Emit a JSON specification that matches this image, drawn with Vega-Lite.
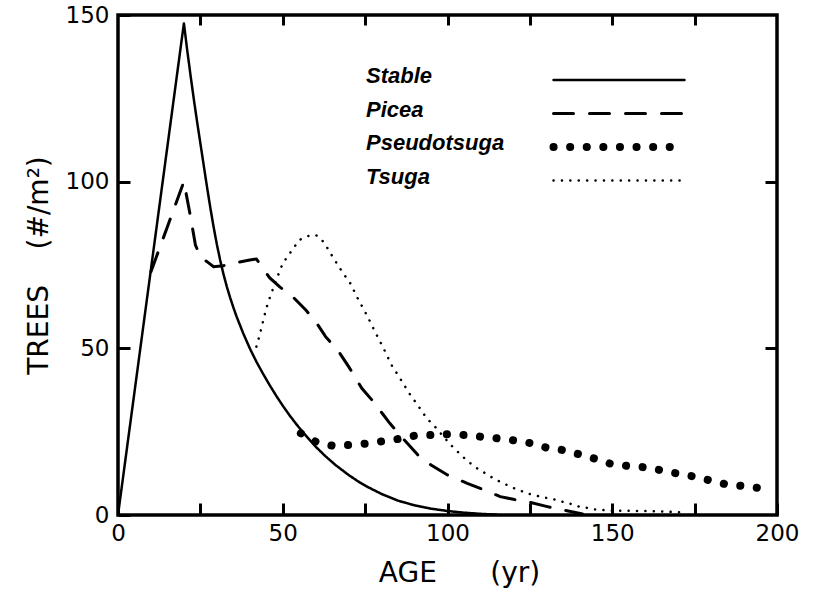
{
  "$schema": "https://vega.github.io/schema/vega-lite/v6.json",
  "width": 659,
  "height": 500,
  "autosize": "none",
  "padding": {"left": 118, "top": 15, "right": 43, "bottom": 82},
  "background": "white",
  "config": {
    "font": "DejaVu Sans",
    "view": {"stroke": "black", "strokeWidth": 3.5},
    "axis": {"domain": false, "grid": false, "tickColor": "black", "tickWidth": 3, "labelColor": "black", "titleColor": "black", "labelFont": "DejaVu Sans", "titleFont": "DejaVu Sans", "labelFontSize": 23, "titleFontSize": 28, "titleFontWeight": "normal"},
    "legend": {"orient": "none", "legendX": 424.5, "legendY": 50, "direction": "vertical", "title": null, "padding": 0, "symbolType": "M0,0H26.2", "symbolSize": 100, "symbolOffset": 0, "symbolStrokeColor": "black", "rowPadding": 11.5, "labelOffset": -198.5, "labelAlign": "left", "labelFont": "Liberation Sans", "labelFontStyle": "italic", "labelFontWeight": "bold", "labelFontSize": 22, "labelColor": "black", "labelLimit": 300}
  },
  "data": {"values": [
    {"series":"Stable","age":0,"value":0},{"series":"Stable","age":20,"value":147.5},{"series":"Stable","age":21,"value":139.5},{"series":"Stable","age":22,"value":132},{"series":"Stable","age":23,"value":124.8},{"series":"Stable","age":24,"value":118},{"series":"Stable","age":25,"value":111.5},{"series":"Stable","age":26,"value":105},{"series":"Stable","age":27,"value":98.5},{"series":"Stable","age":28,"value":92.3},{"series":"Stable","age":29,"value":86.5},{"series":"Stable","age":30,"value":81.2},{"series":"Stable","age":31,"value":76.5},{"series":"Stable","age":32,"value":72.3},{"series":"Stable","age":33,"value":68.6},{"series":"Stable","age":34,"value":65.3},{"series":"Stable","age":35,"value":62.3},{"series":"Stable","age":36,"value":59.5},{"series":"Stable","age":38,"value":54.5},{"series":"Stable","age":40,"value":50},{"series":"Stable","age":42,"value":46},{"series":"Stable","age":44,"value":42.4},{"series":"Stable","age":46,"value":39},{"series":"Stable","age":48,"value":35.8},{"series":"Stable","age":50,"value":32.8},{"series":"Stable","age":52,"value":30},{"series":"Stable","age":54,"value":27.4},{"series":"Stable","age":56,"value":25},{"series":"Stable","age":58,"value":22.7},{"series":"Stable","age":60,"value":20.5},{"series":"Stable","age":63,"value":17.6},{"series":"Stable","age":66,"value":15},{"series":"Stable","age":70,"value":12},{"series":"Stable","age":73,"value":10},{"series":"Stable","age":76,"value":8.3},{"series":"Stable","age":80,"value":6.3},{"series":"Stable","age":85,"value":4.3},{"series":"Stable","age":90,"value":2.9},{"series":"Stable","age":95,"value":1.9},{"series":"Stable","age":100,"value":1.2},{"series":"Stable","age":105,"value":0.7},{"series":"Stable","age":110,"value":0.35},{"series":"Stable","age":115,"value":0.1},
    {"series":"Picea","age":10,"value":73},{"series":"Picea","age":15,"value":86.5},{"series":"Picea","age":20,"value":100},{"series":"Picea","age":22,"value":89.5},{"series":"Picea","age":23.5,"value":81},{"series":"Picea","age":25,"value":77.5},{"series":"Picea","age":27,"value":76},{"series":"Picea","age":29,"value":74.5},{"series":"Picea","age":32,"value":74.8},{"series":"Picea","age":36,"value":75.7},{"series":"Picea","age":40,"value":76.5},{"series":"Picea","age":42,"value":76.8},{"series":"Picea","age":44,"value":74},{"series":"Picea","age":46,"value":71.2},{"series":"Picea","age":49,"value":68.5},{"series":"Picea","age":53,"value":65.5},{"series":"Picea","age":57,"value":61.5},{"series":"Picea","age":60,"value":58},{"series":"Picea","age":63,"value":53.5},{"series":"Picea","age":67,"value":49},{"series":"Picea","age":70,"value":44.5},{"series":"Picea","age":74,"value":38},{"series":"Picea","age":77.5,"value":34},{"series":"Picea","age":82.5,"value":27.5},{"series":"Picea","age":86,"value":23.5},{"series":"Picea","age":91,"value":18},{"series":"Picea","age":95,"value":15},{"series":"Picea","age":100,"value":12},{"series":"Picea","age":106,"value":9.5},{"series":"Picea","age":112,"value":7.2},{"series":"Picea","age":116,"value":5.5},{"series":"Picea","age":120,"value":4.7},{"series":"Picea","age":125,"value":3.8},{"series":"Picea","age":130,"value":2.6},{"series":"Picea","age":135,"value":1.5},{"series":"Picea","age":141,"value":0.3},
    {"series":"Pseudotsuga","age":55.5,"value":24.5},{"series":"Pseudotsuga","age":60,"value":22},{"series":"Pseudotsuga","age":65,"value":20.8},{"series":"Pseudotsuga","age":70,"value":21},{"series":"Pseudotsuga","age":75,"value":21.4},{"series":"Pseudotsuga","age":80,"value":22.1},{"series":"Pseudotsuga","age":85,"value":22.8},{"series":"Pseudotsuga","age":90,"value":23.8},{"series":"Pseudotsuga","age":95,"value":24},{"series":"Pseudotsuga","age":100,"value":24.2},{"series":"Pseudotsuga","age":105,"value":24},{"series":"Pseudotsuga","age":110,"value":23.5},{"series":"Pseudotsuga","age":115,"value":23},{"series":"Pseudotsuga","age":120,"value":22.4},{"series":"Pseudotsuga","age":125,"value":21.6},{"series":"Pseudotsuga","age":130,"value":20.2},{"series":"Pseudotsuga","age":135,"value":19.5},{"series":"Pseudotsuga","age":140,"value":18.2},{"series":"Pseudotsuga","age":145,"value":16.8},{"series":"Pseudotsuga","age":150,"value":15.2},{"series":"Pseudotsuga","age":155,"value":14.7},{"series":"Pseudotsuga","age":160,"value":14.3},{"series":"Pseudotsuga","age":165,"value":13.4},{"series":"Pseudotsuga","age":170,"value":12.4},{"series":"Pseudotsuga","age":175,"value":11.5},{"series":"Pseudotsuga","age":180,"value":10.3},{"series":"Pseudotsuga","age":185,"value":9.1},{"series":"Pseudotsuga","age":190,"value":8.7},{"series":"Pseudotsuga","age":197.5,"value":7.7},
    {"series":"Tsuga","age":42,"value":50.5},{"series":"Tsuga","age":43,"value":54},{"series":"Tsuga","age":44,"value":58},{"series":"Tsuga","age":45,"value":62},{"series":"Tsuga","age":46,"value":65},{"series":"Tsuga","age":48,"value":70.5},{"series":"Tsuga","age":50,"value":75.5},{"series":"Tsuga","age":52.5,"value":79},{"series":"Tsuga","age":55,"value":82.5},{"series":"Tsuga","age":58,"value":83.8},{"series":"Tsuga","age":60,"value":84},{"series":"Tsuga","age":61.5,"value":83},{"series":"Tsuga","age":63,"value":81},{"series":"Tsuga","age":65,"value":77.7},{"series":"Tsuga","age":68,"value":73},{"series":"Tsuga","age":70.5,"value":69.5},{"series":"Tsuga","age":73,"value":64.5},{"series":"Tsuga","age":75.5,"value":60},{"series":"Tsuga","age":78,"value":55},{"series":"Tsuga","age":80.5,"value":50.2},{"series":"Tsuga","age":83,"value":45},{"series":"Tsuga","age":85.6,"value":41},{"series":"Tsuga","age":88.4,"value":36.5},{"series":"Tsuga","age":90.8,"value":33.2},{"series":"Tsuga","age":93.7,"value":29},{"series":"Tsuga","age":96.2,"value":26.5},{"series":"Tsuga","age":101,"value":21},{"series":"Tsuga","age":103.6,"value":18.5},{"series":"Tsuga","age":106,"value":16.2},{"series":"Tsuga","age":109,"value":14},{"series":"Tsuga","age":111.5,"value":12.5},{"series":"Tsuga","age":114.4,"value":10.7},{"series":"Tsuga","age":117,"value":9.5},{"series":"Tsuga","age":119.5,"value":8.3},{"series":"Tsuga","age":124.5,"value":6.4},{"series":"Tsuga","age":129,"value":5.3},{"series":"Tsuga","age":132,"value":4.8},{"series":"Tsuga","age":134,"value":4.2},{"series":"Tsuga","age":137,"value":3.5},{"series":"Tsuga","age":139,"value":2.7},{"series":"Tsuga","age":142,"value":2.2},{"series":"Tsuga","age":144.5,"value":1.7},{"series":"Tsuga","age":147,"value":1.5},{"series":"Tsuga","age":150,"value":1.3},{"series":"Tsuga","age":160,"value":1.2},{"series":"Tsuga","age":172,"value":0.8}
  ]},
  "resolve": {"axis": {"x": "independent", "y": "independent"}},
  "layer": [
    {
      "mark": {"type": "line", "color": "black", "strokeCap": "round", "clip": true},
      "encoding": {
        "x": {"field": "age", "type": "quantitative", "scale": {"domain": [0, 200], "nice": false},
              "axis": {"orient": "bottom", "values": [0,25,50,75,100,125,150,175,200], "labelExpr": "datum.value % 50 === 0 ? datum.label : ''", "tickSize": -12, "labelPadding": 19, "labelFlush": false, "title": "AGE\u00a0\u00a0\u00a0\u00a0\u00a0\u00a0(yr)", "titlePadding": 14, "titleX": 341}},
        "y": {"field": "value", "type": "quantitative", "scale": {"domain": [0, 150], "nice": false},
              "axis": {"orient": "left", "values": [0,50,100,150], "tickSize": -12, "labelPadding": 21, "labelFlush": false, "title": "TREES\u00a0\u00a0\u00a0\u00a0(#/m²)", "titlePadding": 12}},
        "strokeDash": {"field": "series", "type": "nominal",
          "scale": {"domain": ["Stable","Picea","Pseudotsuga","Tsuga"], "range": [[1,0],[20,16],[0.1,16.5],[0.1,8.3]]},
          "legend": {"encoding": {"symbols": {"strokeCap": {"value": "round"}, "strokeJoin": {"value": "round"}, "stroke": {"value": "black"}, "y": {"value": 15}}}}},
        "strokeWidth": {"field": "series", "type": "ordinal", "sort": ["Stable","Picea","Pseudotsuga","Tsuga"],
          "scale": {"type": "ordinal", "domain": ["Stable","Picea","Pseudotsuga","Tsuga"], "range": [2.5, 3, 8, 2.5]},
          "legend": {"encoding": {"symbols": {"strokeCap": {"value": "round"}, "strokeJoin": {"value": "round"}, "stroke": {"value": "black"}, "y": {"value": 15}}}}}
      }
    },
    {
      "mark": {"type": "point", "opacity": 0},
      "encoding": {
        "x": {"field": "age", "type": "quantitative", "axis": {"orient": "top", "values": [25,50,75,100,125,150,175], "labels": false, "title": null, "tickSize": -10}},
        "y": {"field": "value", "type": "quantitative", "axis": {"orient": "right", "values": [50,100], "labels": false, "title": null, "tickSize": -12}}
      }
    }
  ]
}
